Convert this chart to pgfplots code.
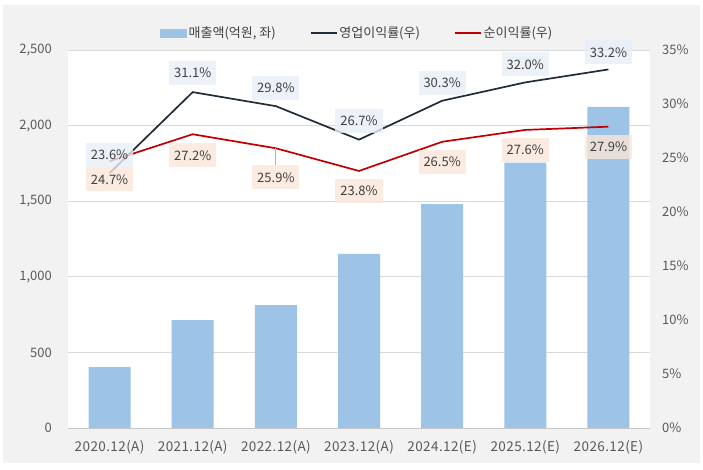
\documentclass[border=0pt]{standalone}
\usepackage{pgfplots}
\pgfplotsset{compat=1.18}
\usepackage{pgfplotstable}
\usepackage{fontspec}
\setmainfont{Noto Sans CJK KR}
\newfontfamily\xfont[LetterSpace=3]{Noto Sans CJK KR}
\definecolor{bgray}{HTML}{F2F2F2}
\definecolor{barblue}{HTML}{9DC3E6}
\definecolor{opmcol}{HTML}{222B38}
\definecolor{npmcol}{HTML}{C00000}
\definecolor{opmbox}{HTML}{E9EEF7}
\definecolor{npmbox}{HTML}{FBE6D9}
\definecolor{gridc}{HTML}{D9D9D9}
\definecolor{tickc}{HTML}{595959}
\definecolor{labc}{HTML}{404040}

\pgfplotstableread{
x rev opm opmdy npm npmdy
0 403 23.6 18 24.7 -18
1 714 31.1 19 27.2 -21
2 813 29.8 18 25.9 -29
3 1151 26.7 19 23.8 -20
4 1481 30.3 18 26.5 -20
5 1755 32.0 18 27.6 -20
6 2123 33.2 17 27.9 -20
}\data

\begin{document}
\begin{tikzpicture}
\useasboundingbox (0pt,0pt) rectangle (703pt,470pt);
\fill[white] (0pt,0pt) rectangle (703pt,470pt);
\fill[bgray] (3pt,7pt) rectangle (700pt,465pt);

\begin{axis}[
  at={(68pt,42pt)}, anchor=south west,
  width=582pt, height=378pt, scale only axis,
  axis background/.style={fill=white},
  xmin=-0.5, xmax=6.5, ymin=0, ymax=2500,
  ytick={0,500,1000,1500,2000,2500},
  xtick={0,1,2,3,4,5,6},
  xticklabels={2020.12(A),2021.12(A),2022.12(A),2023.12(A),2024.12(E),2025.12(E),2026.12(E)},
  ymajorgrids, grid style={gridc, line width=0.8pt},
  axis x line*=bottom, axis y line*=left,
  x axis line style={draw=gridc!80!gray, line width=0.8pt, -},
  y axis line style={draw=none},
  major tick length=0pt,
  /pgf/number format/assume math mode=true,
  /pgf/number format/1000 sep={,},
  tick label style={font=\fontsize{13}{15}\selectfont, text=tickc, inner sep=0pt},
  yticklabel style={anchor=east},
  yticklabel shift=16pt,
  xticklabel style={anchor=center, font=\xfont\fontsize{13.5}{15}\selectfont},
  xticklabel shift=19pt,
  clip=false,
]
\addplot[ybar, bar width=42pt, bar shift=0pt, fill=barblue, draw=none] table[x=x,y=rev]{\data};
\end{axis}

\begin{axis}[
  at={(68pt,42pt)}, anchor=south west,
  width=582pt, height=378pt, scale only axis,
  xmin=-0.5, xmax=6.5, ymin=0, ymax=35,
  ytick={0,5,10,15,20,25,30,35},
  yticklabel={\pgfmathprintnumber{\tick}\%},
  axis y line*=right, axis x line=none,
  y axis line style={draw=none},
  major tick length=0pt,
  /pgf/number format/assume math mode=true,
  tick label style={font=\fontsize{13}{15}\selectfont, text=tickc, inner sep=0pt},
  yticklabel style={anchor=west},
  yticklabel shift=12pt,
  clip=false,
  legend style={at={(axis description cs:0.497,1.045)}, anchor=center,
    draw=none, fill=none, legend columns=3,
    font=\fontsize{13}{15}\selectfont, text=labc,
    /tikz/every even column/.append style={column sep=32pt}},
  legend cell align=left,
]
\addlegendimage{legend image code/.code={\fill[barblue] (0pt,-4pt) rectangle (26pt,4pt);}}
\addlegendentry{매출액(억원, 좌)}
\addplot[opmcol, line width=1.7pt, mark=none,
  legend image code/.code={\draw[opmcol, line width=1.7pt] (0pt,0pt) -- (26pt,0pt);}]
  table[x=x,y=opm]{\data};
\addlegendentry{영업이익률(우)}
\addplot[npmcol, line width=1.7pt, mark=none,
  legend image code/.code={\draw[npmcol, line width=1.7pt] (0pt,0pt) -- (26pt,0pt);}]
  table[x=x,y=npm]{\data};
\addlegendentry{순이익률(우)}

\draw[gray!60, line width=0.8pt] (axis cs:2,25.9) -- ++(0pt,-17pt);

\addplot[draw=none, mark=none, forget plot,
  visualization depends on={\thisrow{opmdy}\as\dy},
  nodes near coords={\pgfmathprintnumber[fixed,fixed zerofill,precision=1]{\pgfplotspointmeta}\%},
  nodes near coords style={anchor=center, yshift=\dy pt, fill=opmbox, fill opacity=0.8,
    text opacity=1, draw=none,
    text=labc, font=\fontsize{13}{15}\selectfont, inner xsep=5pt,
    minimum height=24pt, /pgf/number format/assume math mode=true},
] table[x=x,y=opm]{\data};
\addplot[draw=none, mark=none, forget plot,
  visualization depends on={\thisrow{npmdy}\as\dy},
  nodes near coords={\pgfmathprintnumber[fixed,fixed zerofill,precision=1]{\pgfplotspointmeta}\%},
  nodes near coords style={anchor=center, yshift=\dy pt, fill=npmbox, fill opacity=0.8,
    text opacity=1, draw=none,
    text=labc, font=\fontsize{13}{15}\selectfont, inner xsep=5pt,
    minimum height=24pt, /pgf/number format/assume math mode=true},
] table[x=x,y=npm]{\data};
\end{axis}
\end{tikzpicture}
\end{document}
